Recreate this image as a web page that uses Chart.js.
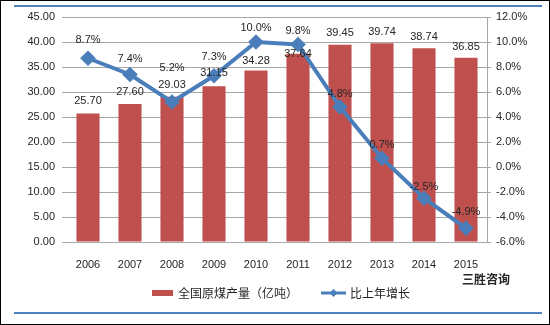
<!DOCTYPE html>
<html>
<head>
<meta charset="utf-8">
<script src="https://cdn.jsdelivr.net/npm/chart.js@4/dist/chart.umd.min.js"></script>
<style>
  html, body { margin: 0; padding: 0; background: #fff; }
  #wrap { width: 550px; height: 325px; box-sizing: border-box; border: 1px solid #000; position: relative; }
  canvas { position: absolute; left: -1px; top: -1px; }
</style>
</head>
<body>
<div id="wrap"><canvas id="coal" width="550" height="325"></canvas></div>
<script>
const years = ['2006', '2007', '2008', '2009', '2010', '2011', '2012', '2013', '2014', '2015'];
const output = [25.70, 27.60, 29.03, 31.15, 34.28, 37.64, 39.45, 39.74, 38.74, 36.85];
const growth = [8.7, 7.4, 5.2, 7.3, 10.0, 9.8, 4.8, 0.7, -2.5, -4.9];

const outputName = '全国原煤产量（亿吨）';
const growthName = '比上年增长';
const source = '三胜咨询';

const textColor = '#262626';
const barRed = '#C0504D';
const lineBlue = '#4A7EBB';
const latin = '"Liberation Sans", Arial, sans-serif';
const cjk = '"Noto Sans CJK SC", sans-serif';

// how far above each mark its label sits (some were nudged to avoid overlap)
const barLift = [13, 12, 12, 13, 10, 0, 12, 11, 11, 11];
const lineLift = [18, 16, 34, 19, 14, 14, 13, 13, 11, 16];

const decor = {
  id: 'decor',
  afterDatasetsDraw(chart) {
    const ctx = chart.ctx;
    ctx.save();
    ctx.font = '11px ' + latin;
    ctx.fillStyle = textColor;
    ctx.textAlign = 'center';
    ctx.textBaseline = 'middle';
    // dataset 0 is the growth line, dataset 1 the output bars
    chart.getDatasetMeta(1).data.forEach((bar, i) => {
      ctx.fillText(output[i].toFixed(2), bar.x, bar.y - barLift[i]);
    });
    chart.getDatasetMeta(0).data.forEach((pt, i) => {
      ctx.fillText(growth[i].toFixed(1) + '%', pt.x, pt.y - lineLift[i]);
    });

    // right edge of the plot
    const a = chart.chartArea;
    ctx.strokeStyle = '#A6A6A6';
    ctx.lineWidth = 1;
    ctx.beginPath();
    ctx.moveTo(a.right + 0.5, a.top);
    ctx.lineTo(a.right + 0.5, a.bottom);
    ctx.stroke();

    // legend
    const ly = 293;
    ctx.fillStyle = barRed;
    ctx.fillRect(152, ly - 3, 21, 6);
    ctx.font = '12px ' + cjk;
    ctx.fillStyle = textColor;
    ctx.textAlign = 'left';
    ctx.fillText(outputName, 178, ly);
    ctx.strokeStyle = lineBlue;
    ctx.lineWidth = 3;
    ctx.beginPath();
    ctx.moveTo(321, ly);
    ctx.lineTo(346, ly);
    ctx.stroke();
    ctx.fillStyle = lineBlue;
    ctx.beginPath();
    ctx.moveTo(333.5, ly - 4);
    ctx.lineTo(337.5, ly);
    ctx.lineTo(333.5, ly + 4);
    ctx.lineTo(329.5, ly);
    ctx.closePath();
    ctx.fill();
    ctx.fillStyle = textColor;
    ctx.fillText(growthName, 350, ly);

    ctx.font = 'bold 12px ' + cjk;
    ctx.fillText(source, 462, 279);

    // blue rules top and bottom
    ctx.strokeStyle = '#4F81BD';
    ctx.lineWidth = 2;
    ctx.beginPath();
    ctx.moveTo(14, 6);
    ctx.lineTo(542, 6);
    ctx.moveTo(14, 313);
    ctx.lineTo(542, 313);
    ctx.stroke();
    ctx.restore();
  }
};

new Chart(document.getElementById('coal'), {
  data: {
    labels: years,
    datasets: [
      {
        type: 'line',
        label: growthName,
        data: growth,
        yAxisID: 'y1',
        borderColor: lineBlue,
        backgroundColor: lineBlue,
        borderWidth: 4,
        pointStyle: 'rectRot',
        pointRadius: 5,
        pointHoverRadius: 5,
        tension: 0,
        order: 0
      },
      {
        type: 'bar',
        label: outputName,
        data: output,
        yAxisID: 'y',
        backgroundColor: barRed,
        barPercentage: 0.55,
        categoryPercentage: 1,
        order: 1
      }
    ]
  },
  options: {
    responsive: false,
    animation: false,
    events: [],
    layout: { padding: { top: 17, left: 0, right: 0, bottom: 0 } },
    plugins: { legend: { display: false }, tooltip: { enabled: false } },
    scales: {
      x: {
        grid: { display: false },
        border: { display: false },
        ticks: { color: textColor, font: { family: latin, size: 11 }, padding: 8 },
        afterFit(s) { s.height = 83; }
      },
      y: {
        position: 'left',
        min: 0,
        max: 45,
        ticks: {
          stepSize: 5,
          color: textColor,
          font: { family: latin, size: 11 },
          padding: 7,
          callback: v => v.toFixed(2)
        },
        grid: { color: '#A6A6A6', tickLength: 5, lineWidth: 1 },
        border: { display: false },
        afterFit(s) { s.width = 67; }
      },
      y1: {
        position: 'right',
        min: -6,
        max: 12,
        ticks: {
          stepSize: 2,
          color: textColor,
          font: { family: latin, size: 11 },
          padding: 5,
          callback: v => v.toFixed(1) + '%'
        },
        grid: { drawOnChartArea: false, color: '#A6A6A6', tickLength: 4 },
        border: { display: false },
        afterFit(s) { s.width = 63; }
      }
    }
  },
  plugins: [decor]
});
</script>
</body>
</html>
